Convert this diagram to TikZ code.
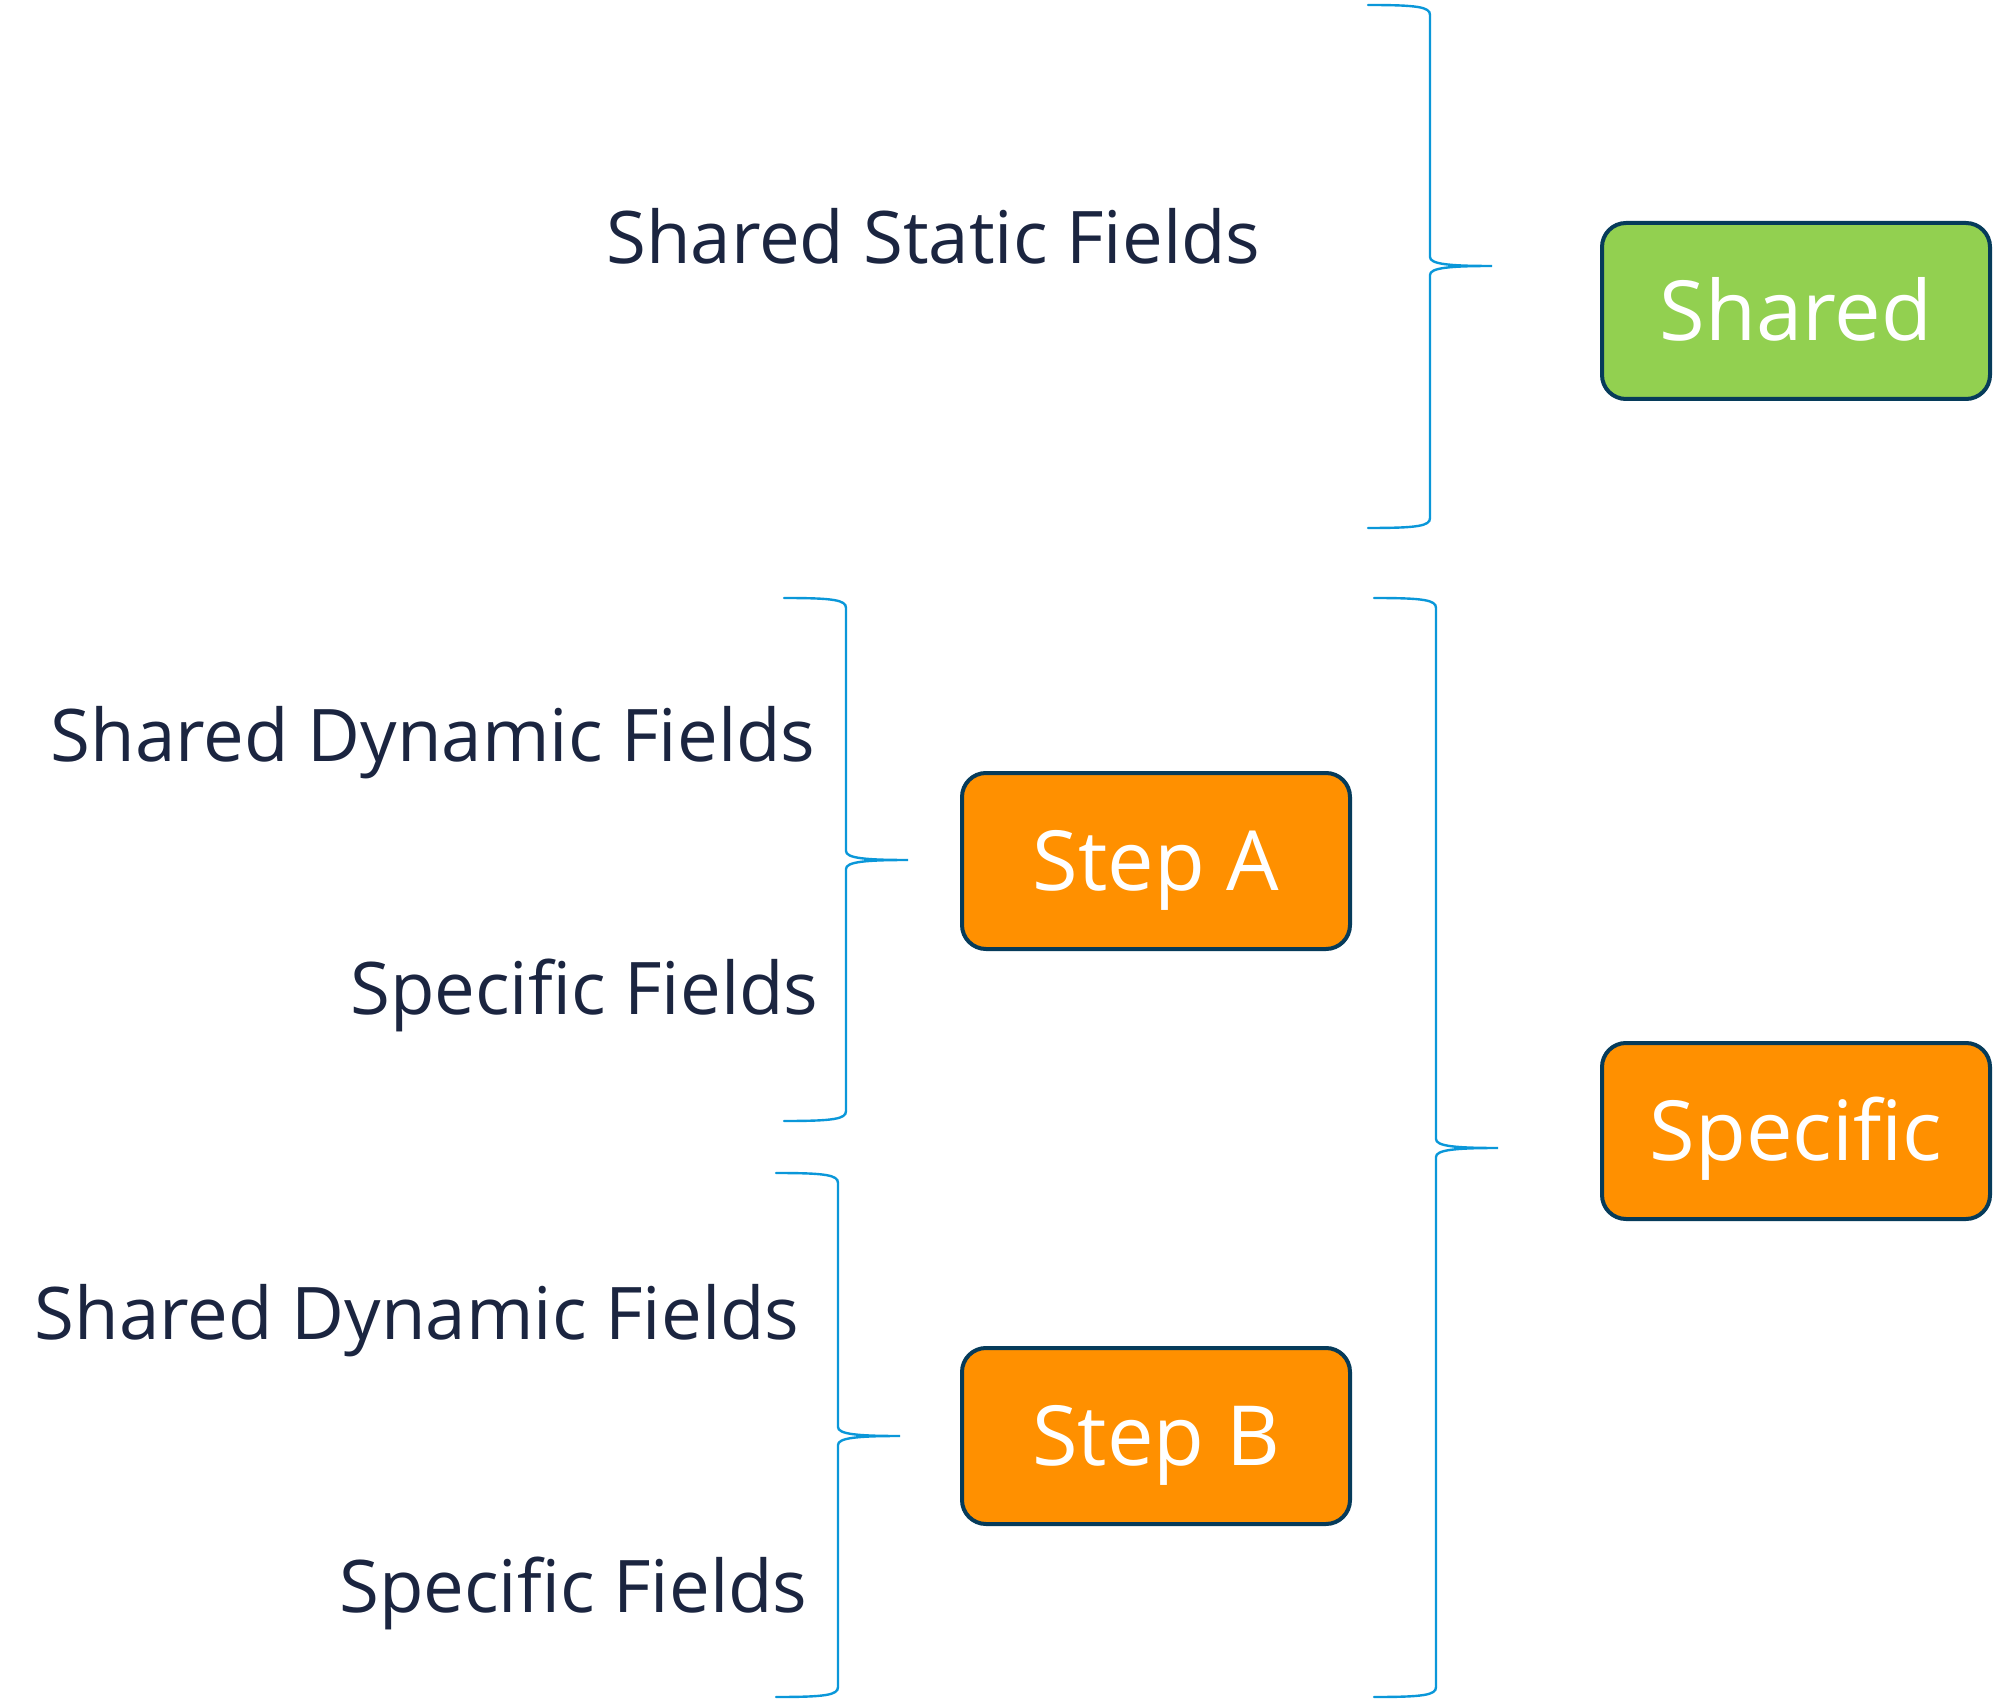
\documentclass[tikz,border=0pt]{standalone}
\usepackage{fontspec}
\setmainfont{Open Sans}
\usepackage{tikz}

\definecolor{bracecol}{HTML}{0A97D9}
\definecolor{labelcol}{HTML}{1B2540}
\definecolor{edgecol}{HTML}{063B5A}
\definecolor{greenbox}{HTML}{92D050}
\definecolor{orangebox}{HTML}{FF9000}

% brace: vertical x, top y, tip y, bottom y
\newcommand{\fieldbrace}[4]{%
  \draw[bracecol, line width=1.2pt, line cap=round]
    (#1-62,#2) .. controls (#1-12,#2) and (#1,#2+2) .. (#1,#2+10)
    -- (#1,#3-9) .. controls (#1,#3-2) and (#1+18,#3) .. (#1+62,#3)
    .. controls (#1+18,#3) and (#1,#3+2) .. (#1,#3+9)
    -- (#1,#4-10) .. controls (#1,#4-2) and (#1-12,#4) .. (#1-62,#4);}

\tikzset{
  fieldlabel/.style={labelcol, font=\fontsize{36.3}{42}\selectfont, inner sep=0pt, anchor=base east},
  stepbox/.style={draw=edgecol, line width=2pt, rounded corners=12pt, minimum width=194pt,
    minimum height=88pt, text=white, font=\fontsize{41.5}{48}\selectfont,
    text height=29.6pt, text depth=0pt},
}

\begin{document}
\begin{tikzpicture}[x=0.5pt, y=-0.5pt]
  \useasboundingbox (0,0) rectangle (1998,1700);

  % boxes
  \node[stepbox, fill=greenbox]  (shared)   at (1796,311)  {Shared};
  \node[stepbox, fill=orangebox] (specific) at (1796,1131) {Specific};
  \node[stepbox, fill=orangebox] (stepa)    at (1156,861)  {Step A};
  \node[stepbox, fill=orangebox] (stepb)    at (1156,1436) {Step B};

  % field labels
  \node[fieldlabel] (staticf)   at (1261,264)  {Shared Static Fields};
  \node[fieldlabel] (dynamica)  at (816,762)   {Shared Dynamic Fields};
  \node[fieldlabel] (specifica) at (819,1014)  {Specific Fields};
  \node[fieldlabel] (dynamicb)  at (800,1339)  {Shared Dynamic Fields};
  \node[fieldlabel] (specificb) at (808,1612)  {Specific Fields};

  % braces
  \fieldbrace{1430}{5}{266}{528}
  \fieldbrace{846}{598}{860}{1121}
  \fieldbrace{838}{1173}{1436}{1697}
  \fieldbrace{1436}{598}{1148}{1697}
\end{tikzpicture}
\end{document}
